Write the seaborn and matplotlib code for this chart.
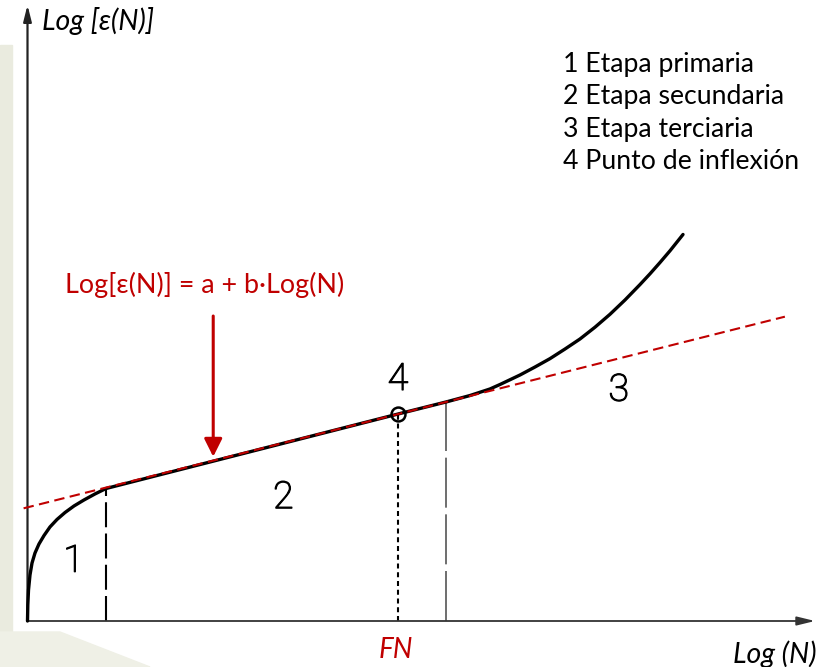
import matplotlib
matplotlib.use("Agg")
import matplotlib.pyplot as plt
import matplotlib.patheffects as pe
from matplotlib.patches import Rectangle, Polygon
import seaborn as sns
import pandas as pd

sns.set_theme(style="white")
plt.rcParams["font.family"] = ["Lato", "DejaVu Sans"]

# Creep-type curve: Log eps(N) against Log N
log_n = [0.0, 0.004, 0.013, 0.032, 0.058, 0.096, 0.147, 0.212, 0.288, 0.378,
         0.481, 0.596, 0.724, 0.865, 1.006,
         4.754,
         5.365, 5.673, 5.929, 6.058, 6.314, 6.506, 6.699, 6.891, 7.083, 7.276,
         7.468, 7.66, 7.853, 7.981, 8.109, 8.237, 8.404]
log_eps = [0.0, 0.267, 0.517, 0.767, 0.967, 1.133, 1.283, 1.425, 1.567, 1.692,
           1.808, 1.917, 2.017, 2.117, 2.208,
           3.451,
           3.65, 3.758, 3.867, 3.942, 4.1, 4.233, 4.373, 4.533, 4.70, 4.897,
           5.112, 5.35, 5.608, 5.787, 5.975, 6.17, 6.442]

# Fitted secondary-stage line Log[eps(N)] = a + b*Log(N)
fit_x = [-0.05, 9.71]
fit_y = [1.878, 5.072]

# Stage limits and inflection point
stage1_end = (1.006, 2.208)
inflection = (4.754, 3.451)
stage3_start = (5.365, 3.65)

stage_numbers = ["1", "2", "3", "4"]
stage_num_x = [0.59, 3.28, 7.58, 4.75]
stage_num_y = [1.0, 2.06, 3.85, 4.03]

legend_lines = ["1 Etapa primaria", "2 Etapa secundaria",
                "3 Etapa terciaria", "4 Punto de inflexión"]

RED = "#C00000"

fig = plt.figure(figsize=(8.25, 6.67), dpi=100)

# faint backdrop strip along the left edge
fig.patches.append(Rectangle((0, 0), 12 / 825, 622 / 667, transform=fig.transFigure,
                             color="#eaebdf", zorder=0))
fig.patches.append(Polygon([(0, 0), (150 / 825, 0), (60 / 825, 35 / 667), (0, 35 / 667)],
                           closed=True, transform=fig.transFigure,
                           color="#eff0e6", zorder=0))

ax = fig.add_axes([0, 0, 1, 1])
ax.patch.set_alpha(0)
ax.set_xlim(-27.5 / 78, (825 - 27.5) / 78)
ax.set_ylim(-46 / 60, 621 / 60)
ax.axis("off")

# axes with arrow heads
ax.annotate("", xy=(10.096, 0), xytext=(0, 0),
            arrowprops=dict(arrowstyle="-|>,head_length=0.9,head_width=0.22",
                            color="#333333", lw=1.3, shrinkA=0, shrinkB=0))
ax.annotate("", xy=(0, 10.267), xytext=(0, 0),
            arrowprops=dict(arrowstyle="-|>,head_length=0.8,head_width=0.2",
                            color="#222222", lw=1.6, shrinkA=0, shrinkB=0))

curve = pd.DataFrame({"log_n": log_n, "log_eps": log_eps})
sns.lineplot(data=curve, x="log_n", y="log_eps", ax=ax, color="black",
             lw=2.4, sort=False, estimator=None, zorder=3)
ax.lines[-1].set_solid_joinstyle("round")
ax.lines[-1].set_solid_capstyle("round")

fit = pd.DataFrame({"log_n": fit_x, "log_eps": fit_y})
sns.lineplot(data=fit, x="log_n", y="log_eps", ax=ax, color=RED, lw=1.5,
             zorder=4)
ax.lines[-1].set_dashes((5, 2.6))

# vertical stage limits
ax.plot([stage1_end[0]] * 2, [0, stage1_end[1]], color="black", lw=1.5,
        dashes=(12, 3), zorder=2)
ax.plot([inflection[0]] * 2, [0, inflection[1]], color="black", lw=1.5,
        dashes=(2.4, 1.8), zorder=2)
ax.plot([stage3_start[0]] * 2, [0, stage3_start[1]], color="#555555", lw=1.2,
        dashes=(30, 4), zorder=2)

# inflection point marker
ax.plot([inflection[0]], [inflection[1]], marker="o", ms=10, mfc="none",
        mec="black", mew=1.8, zorder=5)

for s, x, y in zip(stage_numbers, stage_num_x, stage_num_y):
    ax.text(x, y, s, ha="center", va="center", fontsize=27,
            family=["Roboto", "DejaVu Sans"], fontweight="light",
            color="black",
            path_effects=[pe.withStroke(linewidth=0.9, foreground="black")])

# axis titles
ax.text(0.182, 9.85, "Log [ε(N)]", fontsize=20.5, style="italic",
        ha="left", va="baseline", color="black")
ax.text(10.12, -0.695, "Log (N)", fontsize=20.5, style="italic",
        ha="right", va="baseline", color="black")
ax.text(inflection[0] - 0.03, -0.617, "FN", fontsize=20, style="italic",
        ha="center", va="baseline", color=RED)

# stage legend
for i, line in enumerate(legend_lines):
    ax.text(6.869, 9.155 - i * 0.541, line, fontsize=19.2, ha="left",
            va="baseline", color="black")

# fitted line equation and pointer
ax.text(2.265, 5.462, "Log[ε(N)] = a + b·Log(N)", fontsize=19.4,
        ha="center", va="baseline", color=RED)
ax.annotate("", xy=(2.381, 2.738), xytext=(2.381, 5.083),
            arrowprops=dict(arrowstyle="-|>,head_length=0.9,head_width=0.45",
                            color=RED, lw=2.2, shrinkA=0, shrinkB=0))

fig.savefig("out.png", dpi=100)
